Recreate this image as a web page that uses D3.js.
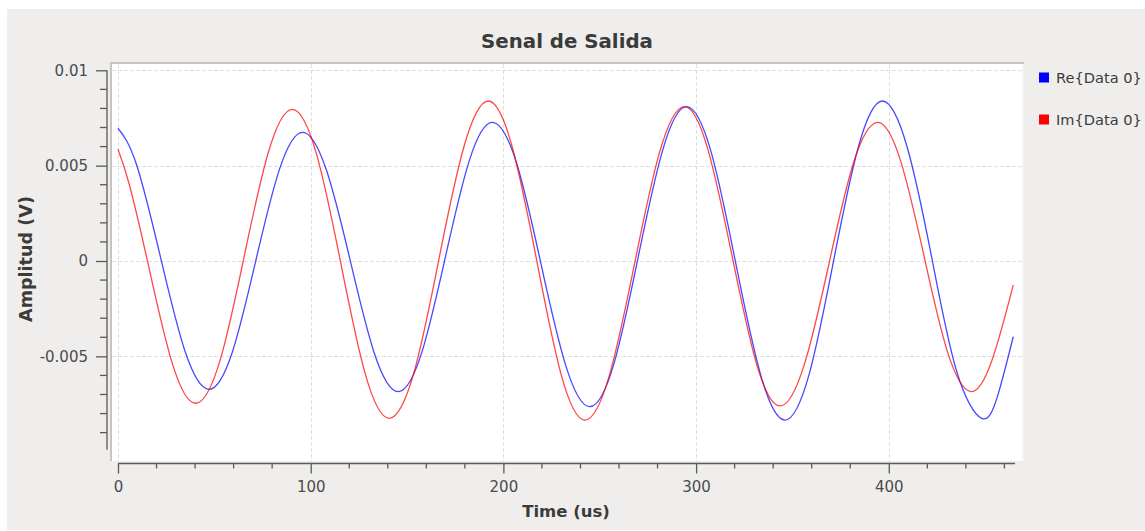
<!DOCTYPE html>
<html>
<head>
<meta charset="utf-8">
<script src="https://cdn.jsdelivr.net/npm/d3@7"></script>
<style>
  html, body { margin: 0; padding: 0; background: #ffffff; }
  svg { display: block; font-family: "DejaVu Sans", sans-serif; }
</style>
</head>
<body>
<svg id="chart" width="1145" height="531"></svg>
<script>
// ---- data ----
const title = "Senal de Salida";
const xLabel = "Time (us)";
const yLabel = "Amplitud (V)";
const seriesNames = ["Re{Data 0}", "Im{Data 0}"];
const seriesColors = ["#0000ff", "#ff0000"];

const xTickValues = [0, 100, 200, 300, 400];
const xTickLabels = ["0", "100", "200", "300", "400"];
const yTickValues = [0.01, 0.005, 0, -0.005];
const yTickLabels = ["0.01", "0.005", "0", "-0.005"];

const reTime = [0, 9.6, 22.1, 34.7, 47.2, 59.4, 71.5, 83.7, 95.8, 108.2, 120.7, 133.1, 145.5,
  157.7, 169.9, 182.1, 194.3, 207.0, 219.6, 232.3, 244.9, 257.5, 270.0, 282.6, 295.1,
  307.9, 320.6, 333.4, 346.1, 358.8, 371.4, 384.1, 396.7, 409.6, 422.5, 435.3, 448.2, 456.4, 464.6];
const reValues = [0.00696, 0.00506, 0.00018, -0.00471, -0.00673, -0.00476, 0.00001, 0.00478, 0.00675,
  0.00476, -0.00005, -0.00486, -0.00685, -0.00478, 0.00021, 0.00520, 0.00727, 0.00509, -0.00019,
  -0.00546, -0.00764, -0.00534, 0.00023, 0.00579, 0.00809, 0.00568, -0.00013, -0.00593, -0.00834,
  -0.00589, 0.00003, 0.00594, 0.00839, 0.00595, 0.00007, -0.00581, -0.00825, -0.00710, -0.00397];

const imTime = [0, 6, 15.8, 28.1, 40.5, 53.0, 65.5, 78.0, 90.5, 103.1, 115.7, 128.2, 140.8,
  153.7, 166.5, 179.4, 192.2, 204.7, 217.3, 229.8, 242.3, 255.2, 268.1, 281.0, 293.9,
  306.3, 318.7, 331.1, 343.5, 356.2, 368.9, 381.5, 394.2, 406.3, 418.4, 430.5, 442.6, 453.6, 464.6];
const imValues = [0.00586, 0.00396, -0.00023, -0.00534, -0.00746, -0.00520, 0.00025, 0.00569, 0.00795,
  0.00558, -0.00015, -0.00588, -0.00825, -0.00581, 0.00007, 0.00595, 0.00839, 0.00594, 0.00003,
  -0.00589, -0.00834, -0.00593, -0.00013, 0.00568, 0.00809, 0.00579, 0.00025, -0.00530, -0.00760,
  -0.00542, -0.00017, 0.00509, 0.00727, 0.00520, 0.00021, -0.00478, -0.00685, -0.00519, -0.00126];

// ---- layout ----
const svg = d3.select("#chart");
const canvas = { x0: 110, x1: 1024, y0: 62, y1: 461 };

const x = d3.scaleLinear().domain([0, 465.5]).range([118, 1015]);
const y = d3.scaleLinear().domain([-0.01, 0.01]).range([451.7, 70.3]);

// background panel
svg.append("rect").attr("x", 0).attr("y", 0).attr("width", 1145).attr("height", 531).attr("fill", "#ffffff");
svg.append("rect").attr("x", 7).attr("y", 9).attr("width", 1138).attr("height", 521).attr("fill", "#efeeec");

// canvas
svg.append("rect")
  .attr("x", canvas.x0).attr("y", canvas.y0)
  .attr("width", canvas.x1 - canvas.x0).attr("height", canvas.y1 - canvas.y0)
  .attr("fill", "#ffffff");
// sunken frame
svg.append("line").attr("x1", canvas.x0).attr("x2", canvas.x1).attr("y1", canvas.y0 + 1).attr("y2", canvas.y0 + 1)
  .attr("stroke", "#c6c5c3").attr("stroke-width", 2);
svg.append("line").attr("x1", canvas.x0 + 1).attr("x2", canvas.x0 + 1).attr("y1", canvas.y0).attr("y2", canvas.y1)
  .attr("stroke", "#c6c5c3").attr("stroke-width", 2);
svg.append("line").attr("x1", canvas.x1 - 1).attr("x2", canvas.x1 - 1).attr("y1", canvas.y0 + 2).attr("y2", canvas.y1)
  .attr("stroke", "#f4f4f4").attr("stroke-width", 2);

// grid
const grid = svg.append("g").attr("stroke", "#e0e0e0").attr("stroke-width", 1).attr("stroke-dasharray", "4,2");
grid.selectAll("line.v").data(xTickValues).join("line")
  .attr("x1", d => Math.round(x(d)) + 0.5).attr("x2", d => Math.round(x(d)) + 0.5)
  .attr("y1", canvas.y0 + 2).attr("y2", canvas.y1);
grid.selectAll("line.h").data(yTickValues).join("line")
  .attr("y1", d => Math.round(y(d)) + 0.5).attr("y2", d => Math.round(y(d)) + 0.5)
  .attr("x1", canvas.x0 + 2).attr("x2", canvas.x1 - 2);

// axes
const axisColor = "#5a5a5a";
const labelColor = "#4b4b4b";

// y axis
const yMinor = d3.range(-9, 11).map(i => i * 0.001).filter(v => !yTickValues.some(t => Math.abs(t - v) < 1e-9));
const yAxisG = svg.append("g").attr("transform", "translate(107,0)");
yAxisG.append("line").attr("x1", 0).attr("x2", 0).attr("y1", y(0.01)).attr("y2", y(-0.0099))
  .attr("stroke", axisColor).attr("stroke-width", 1.3);
const yAxis = d3.axisLeft(y).tickValues(yTickValues).tickSize(11).tickPadding(7)
  .tickFormat((d, i) => yTickLabels[i]);
yAxisG.append("g").call(yAxis).call(g => {
  g.select(".domain").remove();
  g.selectAll(".tick line").attr("stroke", axisColor).attr("stroke-width", 1.3);
  g.selectAll(".tick text").attr("fill", labelColor).attr("font-size", "15px")
    .attr("font-family", "DejaVu Sans").attr("x", -19);
});
yAxisG.selectAll("line.minor").data(yMinor).join("line")
  .attr("x1", -7).attr("x2", 0).attr("y1", d => y(d)).attr("y2", d => y(d))
  .attr("stroke", axisColor).attr("stroke-width", 1.3);

// x axis
const xMinor = d3.range(0, 24).map(i => i * 20).filter(v => v % 100 !== 0 && v <= 465);
const xAxisG = svg.append("g").attr("transform", "translate(0,463.5)");
xAxisG.append("line").attr("x1", x(0)).attr("x2", x(465.5)).attr("y1", 0).attr("y2", 0)
  .attr("stroke", axisColor).attr("stroke-width", 1.3);
const xAxis = d3.axisBottom(x).tickValues(xTickValues).tickSize(10).tickPadding(8)
  .tickFormat((d, i) => xTickLabels[i]);
xAxisG.append("g").call(xAxis).call(g => {
  g.select(".domain").remove();
  g.selectAll(".tick line").attr("stroke", axisColor).attr("stroke-width", 1.3);
  g.selectAll(".tick text").attr("fill", labelColor).attr("font-size", "15px")
    .attr("font-family", "DejaVu Sans");
});
xAxisG.selectAll("line.minor").data(xMinor).join("line")
  .attr("y1", 0).attr("y2", 5).attr("x1", d => x(d)).attr("x2", d => x(d))
  .attr("stroke", axisColor).attr("stroke-width", 1.3);

// series
const line = d3.line().x(d => x(d[0])).y(d => y(d[1])).curve(d3.curveNatural);
const reData = reTime.map((t, i) => [t, reValues[i]]);
const imData = imTime.map((t, i) => [t, imValues[i]]);
[reData, imData].forEach((data, k) => {
  svg.append("path").datum(data)
    .attr("d", line)
    .attr("fill", "none")
    .attr("stroke", seriesColors[k])
    .attr("stroke-opacity", 0.72)
    .attr("stroke-width", 1.3);
});

// titles
const titleColor = "#3b3b3b";
svg.append("text").attr("x", 567).attr("y", 48).attr("text-anchor", "middle")
  .attr("font-size", "19.8px").attr("font-weight", "bold").attr("fill", titleColor).text(title);
svg.append("text").attr("x", 566).attr("y", 517).attr("text-anchor", "middle")
  .attr("font-size", "16.5px").attr("font-weight", "bold").attr("fill", titleColor).text(xLabel);
svg.append("text").attr("transform", "translate(31.5,259) rotate(-90)").attr("text-anchor", "middle")
  .attr("font-size", "17.6px").attr("font-weight", "bold").attr("fill", titleColor).text(yLabel);

// legend
const legend = svg.append("g");
const legendY = [77.5, 119.5];
seriesNames.forEach((name, i) => {
  legend.append("rect").attr("x", 1039).attr("y", legendY[i] - 5).attr("width", 10).attr("height", 10)
    .attr("fill", seriesColors[i]);
  legend.append("text").attr("x", 1056).attr("y", legendY[i] + 5.3)
    .attr("font-size", "14.6px").attr("fill", titleColor).text(name);
});
</script>
</body>
</html>
